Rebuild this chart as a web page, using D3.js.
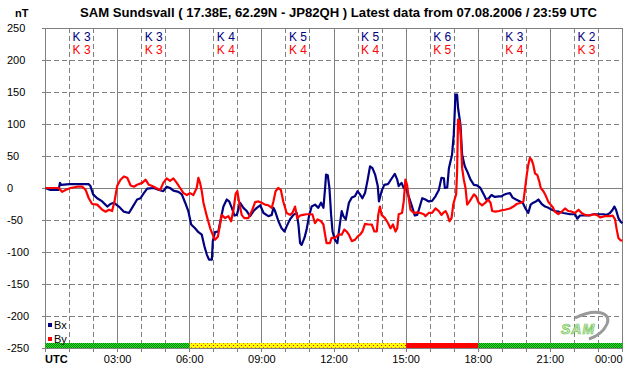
<!DOCTYPE html>
<html>
<head>
<meta charset="utf-8">
<script src="https://cdn.jsdelivr.net/npm/d3@7"></script>
<style>
  body { margin: 0; background: #fff; }
  text { font-family: "Liberation Sans", Arial, sans-serif; }
</style>
</head>
<body>
<svg id="chart" width="642" height="376"></svg>
<script>
const titleText = "SAM Sundsvall ( 17.38E, 62.29N - JP82QH ) Latest data from 07.08.2006 / 23:59 UTC"
const yTicks = [250, 200, 150, 100, 50, 0, -50, -100, -150, -200, -250]
const xTickHours = [3, 6, 9, 12, 15, 18, 21, 24]
const xTickLabels = ["03:00", "06:00", "09:00", "12:00", "15:00", "18:00", "21:00", "00:00"]

// K index per 3h block
const kBx = [3, 3, 4, 5, 5, 6, 3, 2]
const kBy = [3, 3, 4, 4, 4, 5, 4, 3]

// activity bar under the plot
const activity = [
    { from: 0, to: 6, level: "quiet" },
    { from: 6, to: 15, level: "active" },
    { from: 15, to: 18, level: "storm" },
    { from: 18, to: 24, level: "quiet" }
]

// [hour UTC, nT]
const bx = [[0,0],[0.2,-3],[0.55,-3],[0.6,8],[0.65,5],[1.0,6],[1.3,6],[1.8,6],[1.87,3],[1.98,-10],[2.15,-16],[2.36,-21],[2.57,-29],[2.7,-25],[2.84,-23],[3.05,-29],[3.26,-37],[3.47,-39],[3.6,-31],[3.81,-18],[3.95,-16],[4.09,-8],[4.23,-1],[4.5,0],[4.72,-3],
    [4.9,-5],[5.04,2],[5.18,0],[5.32,-4],[5.53,-6],[5.67,-10],[5.81,-23],[5.94,-36],[6.06,-57],[6.22,-63],[6.36,-69],[6.5,-73],[6.61,-91],[6.71,-104],[6.8,-112],[6.92,-112],[6.96,-83],[7.05,-69],[7.19,-68],[7.3,-47],[7.4,-29],[7.54,-18],[7.64,-21],[7.75,-31],[7.86,-43],[7.96,-42],[8.09,-23],[8.23,-31],[8.37,-36],[8.51,-44],[8.65,-36],[8.79,-31],[8.93,-27],[9.07,-39],[9.27,-44],[9.41,-42],
    [9.48,-31],[9.55,-36],[9.69,-52],[9.82,-63],[9.94,-68],[10.03,-60],[10.17,-49],[10.31,-42],[10.45,-39],[10.52,-57],[10.59,-86],[10.65,-89],[10.77,-78],[10.86,-65],[10.96,-44],[11.07,-29],[11.21,-26],[11.35,-31],[11.46,-23],[11.56,-31],[11.63,0],[11.67,21],[11.74,20],[11.81,0],[11.88,-42],[11.94,-68],[12.04,-81],[12.14,-86],[12.22,-63],[12.32,-36],[12.39,-44],[12.49,-49],[12.62,-23],[12.74,-15],[12.87,-13],[12.98,-5],[13.08,-10],[13.18,-16],[13.29,-8],[13.4,13],[13.5,34],[13.6,31],[13.71,21],[13.82,3],[13.87,-21],[13.98,-5],[14.09,5],[14.23,6],
    [14.28,8],[14.42,16],[14.53,22],[14.63,13],[14.69,3],[14.81,8],[14.9,0],[15.0,-1],[15.08,-10],[15.22,-26],[15.36,-43],[15.46,-42],[15.53,-34],[15.67,-16],[15.8,-18],[15.94,-21],[16.08,-20],[16.22,-13],[16.36,-3],[16.47,16],[16.57,15],[16.61,0],[16.71,1],[16.78,31],[16.91,52],[16.98,83],[17.03,125],[17.05,146],[17.12,146],[17.16,125],[17.26,99],[17.33,52],[17.44,34],[17.54,26],[17.68,13],[17.82,5],[17.95,4],[18.09,0],[18.23,-10],[18.33,-18],[18.44,-16],[18.55,-11],[18.69,-14],[18.86,-13],[18.97,-13],
    [19.04,-11],[19.18,-9],[19.32,-8],[19.43,-15],[19.57,-18],[19.74,-21],[19.85,-23],[19.95,-31],[20.08,-39],[20.18,-26],[20.29,-23],[20.4,-21],[20.5,-18],[20.64,-25],[20.78,-29],[20.92,-31],[21.06,-34],[21.19,-36],[21.33,-37],[21.54,-39],[21.82,-41],[22.03,-41],[22.12,-48],[22.23,-43],[22.4,-43],[22.58,-43],[22.79,-41],[23.0,-41],[23.21,-41],[23.34,-42],[23.48,-39],[23.59,-34],[23.66,-29],[23.73,-34],[23.83,-47],[23.93,-53],[24,-55]]

const by = [[0,0],[0.55,0],[0.69,-6],[0.83,-3],[1.04,0],[1.32,2],[1.53,2],[1.67,-3],[1.8,-16],[1.94,-25],[2.15,-26],[2.36,-34],[2.5,-37],[2.64,-34],[2.77,-36],[2.87,-21],[2.98,3],[3.12,13],[3.26,18],[3.4,16],[3.54,4],[3.68,2],[3.81,5],[4.02,8],[4.16,13],[4.3,5],[4.44,3],[4.6,0],
    [4.77,-3],[4.9,8],[5.04,15],[5.18,11],[5.32,15],[5.46,8],[5.6,0],[5.74,-8],[5.88,-11],[6.01,-8],[6.15,-11],[6.29,0],[6.36,16],[6.43,8],[6.5,-5],[6.57,-23],[6.71,-44],[6.85,-63],[6.99,-76],[7.05,-81],[7.17,-76],[7.26,-57],[7.33,-42],[7.47,-47],[7.61,-44],[7.72,-52],[7.82,-34],[7.91,-9],[7.98,-5],[8.05,-21],[8.16,-42],[8.27,-47],[8.44,-47],[8.58,-36],[8.72,-22],[8.86,-21],[8.99,-23],[9.13,-26],[9.27,-27],[9.41,-31],
    [9.48,-21],[9.57,-5],[9.68,0],[9.79,-3],[9.89,-21],[10.03,-39],[10.17,-42],[10.27,-39],[10.38,-29],[10.47,-47],[10.59,-43],[10.72,-42],[10.86,-41],[11.0,-41],[11.1,-41],[11.21,-55],[11.32,-49],[11.46,-52],[11.56,-57],[11.63,-73],[11.69,-86],[11.83,-86],[11.9,-78],[12.04,-78],[12.18,-73],[12.32,-73],[12.43,-65],[12.53,-68],[12.62,-73],[12.74,-83],[12.87,-81],[12.98,-76],[13.08,-73],[13.18,-68],[13.29,-56],[13.43,-57],[13.57,-57],[13.68,-68],[13.78,-68],[13.84,-42],[13.91,-29],[13.98,-42],[14.12,-47],
    [14.25,-55],[14.35,-63],[14.45,-57],[14.56,-68],[14.63,-63],[14.69,-41],[14.83,-39],[14.9,-21],[14.97,13],[15.04,5],[15.11,-16],[15.18,-34],[15.32,-39],[15.46,-38],[15.6,-39],[15.74,-41],[15.8,-44],[15.94,-39],[16.08,-39],[16.22,-32],[16.36,-36],[16.47,-42],[16.57,-38],[16.64,-36],[16.72,-42],[16.8,-52],[16.89,-47],[16.96,-26],[17.03,-16],[17.08,-10],[17.12,26],[17.16,107],[17.22,104],[17.27,83],[17.33,31],[17.4,13],[17.47,0],[17.54,-26],[17.64,-21],[17.72,-16],[17.82,-10],[17.91,-13],[18.02,-23],[18.16,-27],[18.3,-23],[18.41,-18],[18.51,-23],[18.58,-36],[18.72,-37],[18.86,-36],[18.97,-35],
    [19.11,-34],[19.32,-32],[19.46,-29],[19.6,-25],[19.77,-23],[19.88,-21],[19.95,0],[20.02,21],[20.08,36],[20.15,47],[20.22,44],[20.29,36],[20.36,23],[20.46,20],[20.54,10],[20.6,0],[20.71,-5],[20.82,-13],[20.92,-22],[21.01,-26],[21.1,-30],[21.19,-37],[21.33,-41],[21.47,-37],[21.61,-32],[21.75,-36],[21.89,-37],[22.03,-39],[22.17,-34],[22.3,-39],[22.44,-42],[22.65,-43],[22.79,-41],[22.93,-42],[23.07,-46],[23.27,-44],[23.48,-44],[23.59,-43],[23.69,-49],[23.76,-65],[23.83,-78],[23.93,-82],[24,-82]]

let svg = d3.select("#chart")

let x = d3.scaleLinear().domain([0, 24]).range([45.5, 622.5])
let y = d3.scaleLinear().domain([-250, 250]).range([348, 28])

/* ---------------- patterns for the activity bar ---------------- */

let defs = svg.append("defs")
let pQuiet = defs.append("pattern").attr("id", "quiet")
    .attr("patternUnits", "userSpaceOnUse").attr("width", 2).attr("height", 2)
pQuiet.append("rect").attr("width", 2).attr("height", 2).attr("fill", "#22dd22")
pQuiet.append("rect").attr("width", 1).attr("height", 1).attr("fill", "#008800")
pQuiet.append("rect").attr("x", 1).attr("y", 1).attr("width", 1).attr("height", 1).attr("fill", "#008800")

let pActive = defs.append("pattern").attr("id", "active")
    .attr("patternUnits", "userSpaceOnUse").attr("width", 4).attr("height", 4)
pActive.append("rect").attr("width", 4).attr("height", 4).attr("fill", "#ffff00")
pActive.append("rect").attr("x", 1).attr("y", 1).attr("width", 1).attr("height", 1).attr("fill", "#ff0000")
pActive.append("rect").attr("x", 3).attr("y", 3).attr("width", 1).attr("height", 1).attr("fill", "#ff6600")

let barFill = { quiet: "url(#quiet)", active: "url(#active)", storm: "#ff0000" }

/* ---------------- grid ---------------- */

let grid = svg.append("g").attr("shape-rendering", "crispEdges")

grid.selectAll(".hgrid")
    .data(yTicks)
    .enter()
        .append("line")
        .attr("x1", x(0)).attr("x2", x(24))
        .attr("y1", d => y(d)).attr("y2", d => y(d))
        .attr("stroke", "#808080")
        .attr("stroke-dasharray", d => (d == 0 || Math.abs(d) == 250) ? null : "5,3")

grid.selectAll(".vgrid")
    .data(d3.range(0, 25))
    .enter()
        .append("line")
        .attr("x1", d => x(d)).attr("x2", d => x(d))
        .attr("y1", y(250)).attr("y2", y(-250) + 4)
        .attr("stroke", "#808080")
        .attr("stroke-dasharray", d => d % 3 == 0 ? null : "5,3")

// little ticks left of the y axis
grid.selectAll(".ytick")
    .data(yTicks)
    .enter()
        .append("line")
        .attr("x1", x(0) - 4).attr("x2", x(0))
        .attr("y1", d => y(d)).attr("y2", d => y(d))
        .attr("stroke", "#808080")

/* ---------------- activity bar ---------------- */

svg.append("g").selectAll("rect")
    .data(activity)
    .enter()
        .append("rect")
        .attr("x", d => x(d.from))
        .attr("width", d => x(d.to) - x(d.from))
        .attr("y", y(-250) - 5)
        .attr("height", 5)
        .attr("fill", d => barFill[d.level])

/* ---------------- K labels ---------------- */

let kGroup = svg.append("g").attr("font-size", 12)
kGroup.selectAll(".kbx")
    .data(kBx)
    .enter()
        .append("text")
        .attr("x", (d, i) => x(i * 3 + 1.5))
        .attr("y", 37)
        .attr("text-anchor", "middle")
        .attr("dominant-baseline", "central")
        .attr("fill", "#000080")
        .text(d => "K " + d)
kGroup.selectAll(".kby")
    .data(kBy)
    .enter()
        .append("text")
        .attr("x", (d, i) => x(i * 3 + 1.5))
        .attr("y", 50)
        .attr("text-anchor", "middle")
        .attr("dominant-baseline", "central")
        .attr("fill", "#ff0000")
        .text(d => "K " + d)

/* ---------------- series ---------------- */

let line = d3.line().x(d => x(d[0])).y(d => y(d[1]))

svg.append("path").datum(bx)
    .attr("d", line)
    .attr("fill", "none").attr("stroke", "#000080").attr("stroke-width", 2.2)
    .attr("stroke-linejoin", "round")

svg.append("path").datum(by)
    .attr("d", line)
    .attr("fill", "none").attr("stroke", "#ff0000").attr("stroke-width", 2.2)
    .attr("stroke-linejoin", "round")

/* ---------------- texts ---------------- */

svg.append("text")
    .attr("x", 80).attr("y", 13)
    .attr("dominant-baseline", "central")
    .attr("font-size", 12.5).attr("font-weight", "bold")
    .attr("textLength", 517).attr("lengthAdjust", "spacingAndGlyphs")
    .text(titleText)

svg.append("text")
    .attr("x", 15).attr("y", 13)
    .attr("dominant-baseline", "central")
    .attr("font-size", 11).attr("font-weight", "bold")
    .text("nT")

svg.append("g").selectAll("text")
    .data(yTicks)
    .enter()
        .append("text")
        .attr("x", 7).attr("y", d => y(d))
        .attr("dominant-baseline", "central")
        .attr("font-size", 11)
        .text(d => d)

svg.append("g").selectAll("text")
    .data(xTickHours)
    .enter()
        .append("text")
        .attr("x", d => x(d)).attr("y", 359)
        .attr("text-anchor", d => d == 24 ? "end" : "middle")
        .attr("dominant-baseline", "central")
        .attr("font-size", 11)
        .text((d, i) => xTickLabels[i])

svg.append("text")
    .attr("x", 45).attr("y", 359)
    .attr("dominant-baseline", "central")
    .attr("font-size", 11).attr("font-weight", "bold")
    .text("UTC")

/* ---------------- legend ---------------- */

let legend = svg.append("g").attr("font-size", 11)
legend.append("rect").attr("x", 48).attr("y", 323).attr("width", 4).attr("height", 4).attr("fill", "#000080")
legend.append("text").attr("x", 54).attr("y", 325).attr("dominant-baseline", "central").text("Bx")
legend.append("rect").attr("x", 48).attr("y", 337).attr("width", 4).attr("height", 4).attr("fill", "#ff0000")
legend.append("text").attr("x", 54).attr("y", 339).attr("dominant-baseline", "central").text("By")

/* ---------------- logo ---------------- */

let logo = svg.append("g")
logo.append("path")
    .attr("d", "M575,318 C595,308 612,312 607,324 C603,333 595,337 589,339")
    .attr("fill", "none").attr("stroke", "#9a9a9a").attr("stroke-width", 3)
logo.append("text")
    .attr("x", 578).attr("y", 329)
    .attr("text-anchor", "middle").attr("dominant-baseline", "central")
    .attr("font-size", 14).attr("font-style", "italic").attr("font-weight", "bold")
    .attr("fill", "#e0e0e0").attr("stroke", "#66cc44").attr("stroke-width", 0.7)
    .attr("letter-spacing", 1)
    .text("SAM")
</script>
</body>
</html>
